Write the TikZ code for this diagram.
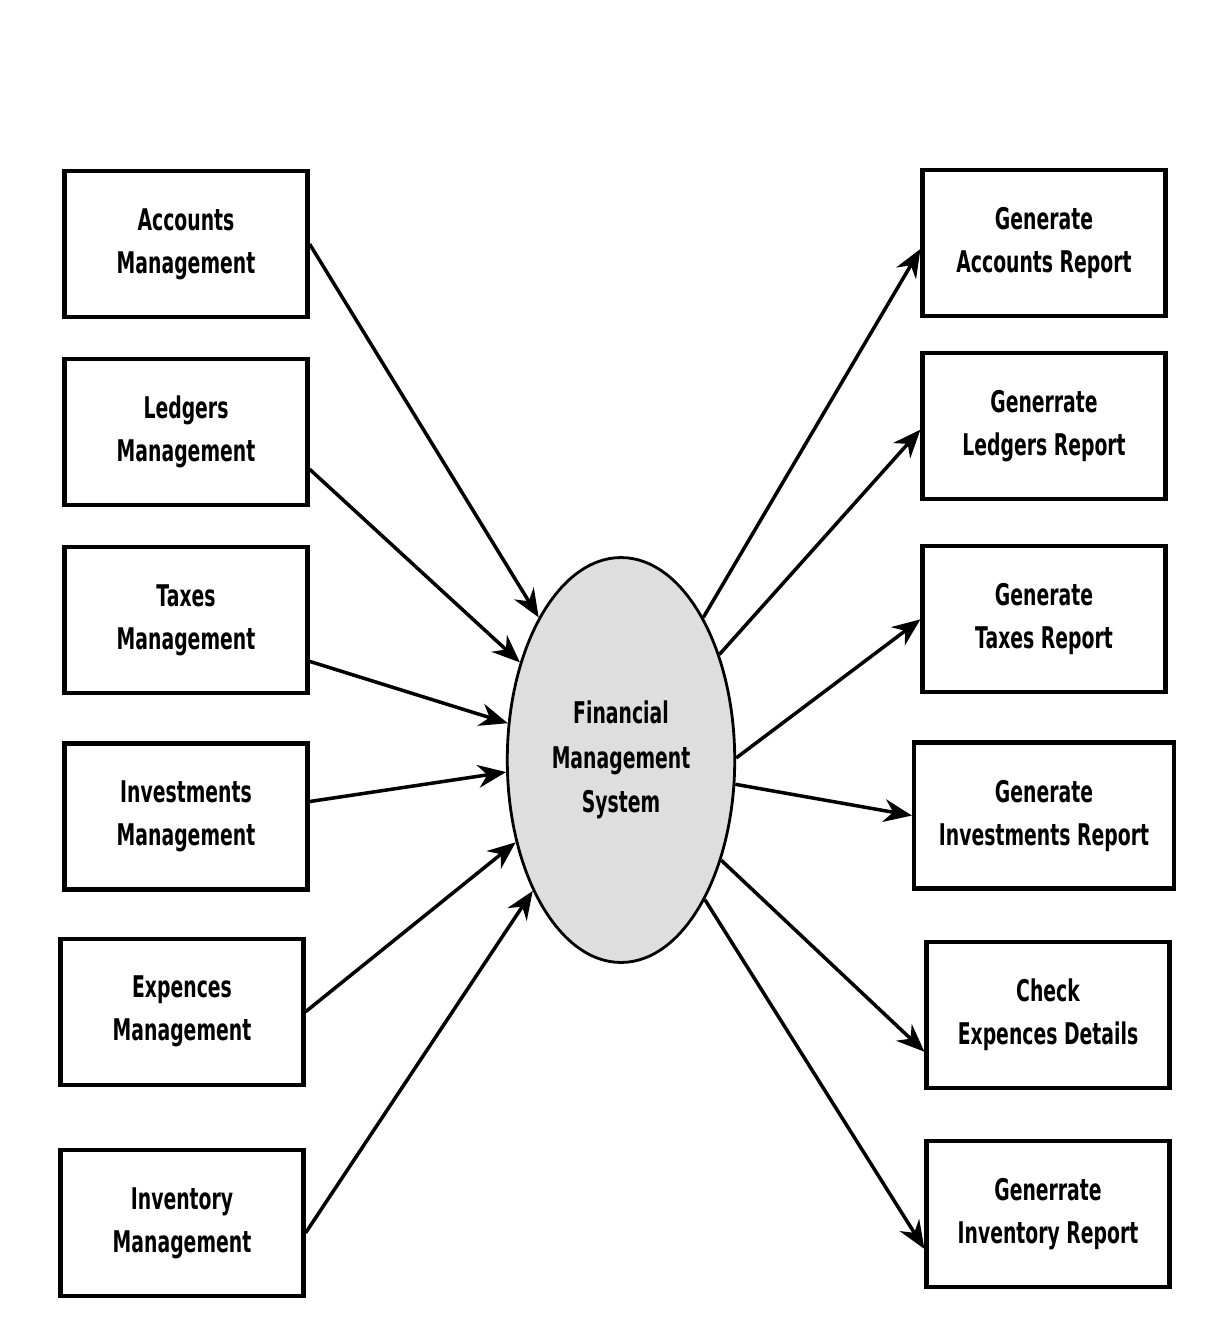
\documentclass[tikz,border=0pt]{standalone}
\usepackage{fontspec}
\setmainfont{DejaVu Sans}[FakeStretch=0.63]
\usetikzlibrary{positioning,shapes.geometric,arrows.meta}

\begin{document}
\begin{tikzpicture}[x=0.02cm, y=-0.02cm, node distance=.8cm]
	\tikzstyle{module}=[draw=black, line width=2.4pt, fill=white, minimum width=4.86cm, minimum height=2.92cm, align=center, font=\fontsize{17}{24.5}\selectfont\bfseries]
	\tikzstyle{process}=[ellipse, draw=black, line width=1.6pt, fill=black!13, minimum width=4.55cm, minimum height=8.1cm, inner sep=0pt, align=center, font=\fontsize{17}{25.5}\selectfont\bfseries]
	\tikzstyle{flow}=[-{Stealth[length=16pt,width=13pt]}, draw=black, line width=2pt]

	\useasboundingbox (0,0) rectangle (1224,1331);

	\node (fms) [process] at (621,760) {Financial\\Management\\System};

	\node (m1) [module] at (186,244) {Accounts\\Management};
	\node (m2) [module, below=0.76cm of m1] {Ledgers\\Management};
	\node (m3) [module, below=0.76cm of m2] {Taxes\\Management};
	\node (m4) [module, below=0.92cm of m3] {Investments\\Management};
	\node (m5) [module, below=0.9cm of m4, xshift=-0.08cm] {Expences\\Management};
	\node (m6) [module, below=1.22cm of m5] {Inventory\\Management};

	\node (r1) [module] at (1044,243) {Generate\\Accounts Report};
	\node (r2) [module, below=0.66cm of r1] {Generrate\\Ledgers Report};
	\node (r3) [module, below=0.86cm of r2] {Generate\\Taxes Report};
	\node (r4) [module, below=0.92cm of r3, minimum width=5.2cm] {Generate\\Investments Report};
	\node (r5) [module, below=0.98cm of r4, xshift=0.08cm] {Check\\Expences Details};
	\node (r6) [module, below=0.98cm of r5] {Generrate\\Inventory Report};

	% into the system
	\draw[flow] (m1.east) -- (fms.120.7);
	\draw[flow] ([yshift=-0.74cm]m2.east) -- (fms.136.7);
	\draw[flow] ([yshift=-0.82cm]m3.east) -- (fms.162.2);
	\draw[flow] ([yshift=0.3cm]m4.east) -- (fms.186.3);
	\draw[flow] (m5.east) -- (fms.218.6);
	\draw[flow] ([yshift=-0.2cm]m6.east) -- (fms.236);

	% out to the reports
	\draw[flow] (fms.60) -- ([yshift=-0.12cm]r1.west);
	\draw[flow] (fms.47.9) -- ([yshift=-0.07cm]r2.west);
	\draw[flow] (fms.1) -- (r3.west);
	\draw[flow] (fms.348.8) -- (r4.west);
	\draw[flow] (fms.315.3) -- ([yshift=-0.74cm]r5.west);
	\draw[flow] (fms.301.9) -- ([yshift=-0.7cm]r6.west);
\end{tikzpicture}
\end{document}
